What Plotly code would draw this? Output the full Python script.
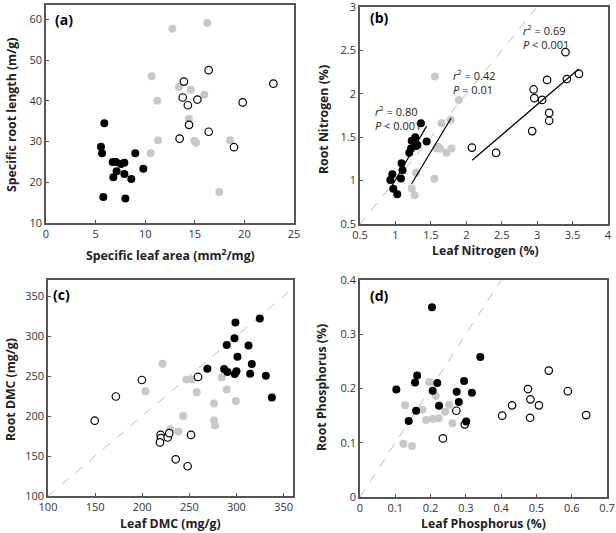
import numpy as np
import plotly.graph_objects as go

# ---------------- data ----------------
# (a) Specific leaf area vs specific root length
a_black_x = [5.88, 5.54, 5.65, 5.78, 6.72, 7.06, 6.79, 7.12, 7.56, 7.9, 7.9, 8.0, 8.6, 9.0, 9.81]
a_black_y = [34.5, 28.7, 27.1, 16.4, 25.0, 25.0, 21.2, 22.7, 24.5, 24.8, 22.0, 16.0, 20.8, 27.1, 23.3]
a_gray_x = [12.74, 16.26, 10.65, 11.22, 11.29, 10.55, 13.4, 14.6, 15.96, 14.4, 14.95, 15.12, 18.55, 17.47]
a_gray_y = [57.7, 59.1, 46.0, 40.0, 30.3, 27.1, 43.4, 42.7, 41.5, 35.6, 30.2, 29.7, 30.3, 17.6]
a_open_x = [13.9, 13.78, 14.3, 15.26, 16.4, 14.42, 13.47, 16.4, 19.83, 18.95, 22.92]
a_open_y = [44.7, 40.8, 38.9, 40.3, 47.5, 34.1, 30.7, 32.4, 39.6, 28.6, 44.2]

# (b) Leaf nitrogen vs root nitrogen
b_black_x = [0.928, 0.956, 0.97, 1.026, 1.087, 1.10, 1.078, 1.195, 1.22, 1.23, 1.28, 1.29, 1.31, 1.36, 1.44]
b_black_y = [1.006, 1.072, 0.906, 0.844, 1.20, 1.12, 1.025, 1.32, 1.37, 1.46, 1.50, 1.40, 1.41, 1.66, 1.45]
b_gray_x = [1.557, 1.895, 1.78, 1.65, 1.29, 1.23, 1.27, 1.55, 1.60, 1.63, 1.72, 1.79, 1.58]
b_gray_y = [2.20, 1.93, 1.70, 1.66, 1.09, 0.91, 0.83, 1.02, 1.39, 1.37, 1.32, 1.37, 1.37]
b_open_x = [2.08, 2.42, 2.93, 2.95, 2.96, 3.07, 3.14, 3.17, 3.17, 3.40, 3.42, 3.59]
b_open_y = [1.38, 1.32, 1.57, 2.05, 1.95, 1.93, 2.16, 1.78, 1.69, 2.48, 2.17, 2.23]
# fitted regression lines (x start, x end, y start, y end)
b_fit_black = [0.92, 1.44, 0.894, 1.628]
b_fit_gray = [1.228, 1.787, 0.964, 1.721]
b_fit_open = [2.083, 3.587, 1.234, 2.285]
b_stats = ["<i>r</i><sup>2</sup> = 0.80<br><i>P</i> < 0.001",
           "<i>r</i><sup>2</sup> = 0.42<br><i>P</i> = 0.01",
           "<i>r</i><sup>2</sup> = 0.69<br><i>P</i> < 0.001"]

# (c) Leaf DMC vs root DMC
c_black_x = [269.1, 289.7, 297.9, 298.9, 324.8, 312.8, 301.1, 286.9, 290.4, 298.2, 300.0, 314.5, 316.3, 331.2, 337.6]
c_black_y = [259.1, 288.8, 297.1, 317.0, 322.0, 288.0, 274.0, 258.7, 255.0, 252.5, 255.8, 252.9, 264.9, 250.4, 223.1]
c_gray_x = [221.6, 203.5, 246.8, 253.2, 257.8, 243.3, 238.3, 229.8, 284.4, 289.7, 276.2, 276.2, 277.3, 299.3]
c_gray_y = [265.3, 231.0, 245.5, 245.5, 229.8, 200.0, 180.6, 183.5, 248.3, 233.1, 215.7, 194.6, 188.0, 218.6]
c_open_x = [149.6, 172.0, 199.6, 259.2, 219.5, 219.9, 218.8, 227.0, 228.7, 251.8, 235.5, 248.2]
c_open_y = [194.2, 224.4, 245.0, 248.8, 176.4, 172.3, 167.0, 173.1, 178.5, 176.4, 145.9, 137.2]

# (d) Leaf phosphorus vs root phosphorus
d_black_x = [0.103, 0.162, 0.156, 0.138, 0.159, 0.204, 0.206, 0.219, 0.224, 0.274, 0.28, 0.295, 0.301, 0.317, 0.341]
d_black_y = [0.198, 0.224, 0.211, 0.140, 0.159, 0.350, 0.196, 0.210, 0.168, 0.194, 0.175, 0.214, 0.139, 0.192, 0.258]
d_gray_x = [0.128, 0.123, 0.147, 0.177, 0.196, 0.187, 0.206, 0.215, 0.223, 0.241, 0.253, 0.262]
d_gray_y = [0.169, 0.098, 0.094, 0.161, 0.212, 0.142, 0.144, 0.186, 0.145, 0.157, 0.170, 0.136]
d_open_x = [0.235, 0.273, 0.297, 0.403, 0.431, 0.476, 0.483, 0.482, 0.507, 0.535, 0.589, 0.641]
d_open_y = [0.108, 0.159, 0.134, 0.150, 0.169, 0.199, 0.180, 0.146, 0.169, 0.233, 0.195, 0.151]

# axis ranges
a_xr, a_yr = [0, 25], [10, 63.5]
b_xr, b_yr = [0.5, 4], [0.5, 3]
c_xr, c_yr = [100, 360], [100, 370]
d_xr, d_yr = [0, 0.7], [0, 0.4]

# ---------------- figure ----------------
W, H = 616, 533
FONT = "Open Sans"
GRAY = "#c8c8c8"
FRAME = "#555555"

fig = go.Figure()

def px(v):
    return v / W

def py(v):
    return 1 - v / H

panels = {
    "a": dict(xa="x", ya="y", xd=[px(46), px(294)], yd=[py(223), py(5)]),
    "b": dict(xa="x2", ya="y2", xd=[px(360), px(608)], yd=[py(224), py(7)]),
    "c": dict(xa="x3", ya="y3", xd=[px(48), px(293)], yd=[py(496), py(280)]),
    "d": dict(xa="x4", ya="y4", xd=[px(360), px(607)], yd=[py(497), py(280)]),
}

def add_groups(p, bx, by, gx, gy, ox, oy):
    P = panels[p]
    fig.add_trace(go.Scatter(x=gx, y=gy, mode="markers", xaxis=P["xa"], yaxis=P["ya"],
                             marker=dict(size=8, color=GRAY, line=dict(width=0)), showlegend=False))
    fig.add_trace(go.Scatter(x=ox, y=oy, mode="markers", xaxis=P["xa"], yaxis=P["ya"],
                             marker=dict(size=7.5, color="white", line=dict(width=1.2, color="black")),
                             showlegend=False))
    fig.add_trace(go.Scatter(x=bx, y=by, mode="markers", xaxis=P["xa"], yaxis=P["ya"],
                             marker=dict(size=8, color="black", line=dict(width=0)), showlegend=False))

def add_identity(p, yr):
    P = panels[p]
    fig.add_trace(go.Scatter(x=yr, y=yr, mode="lines", xaxis=P["xa"], yaxis=P["ya"],
                             line=dict(color="#bdbdbd", width=1, dash="dash"), showlegend=False,
                             hoverinfo="skip"))

add_identity("b", b_yr)
add_identity("c", c_yr)
add_identity("d", d_yr)

add_groups("a", a_black_x, a_black_y, a_gray_x, a_gray_y, a_open_x, a_open_y)
add_groups("b", b_black_x, b_black_y, b_gray_x, b_gray_y, b_open_x, b_open_y)
add_groups("c", c_black_x, c_black_y, c_gray_x, c_gray_y, c_open_x, c_open_y)
add_groups("d", d_black_x, d_black_y, d_gray_x, d_gray_y, d_open_x, d_open_y)

for fit in (b_fit_black, b_fit_gray, b_fit_open):
    fig.add_trace(go.Scatter(x=fit[:2], y=fit[2:], mode="lines", xaxis="x2", yaxis="y2",
                             line=dict(color="black", width=1.2), showlegend=False))

axis_common = dict(showgrid=False, zeroline=False, showline=True, linecolor=FRAME, linewidth=1.5,
                   mirror=True, ticks="inside", ticklen=3, tickcolor=FRAME, automargin=False,
                   ticklabeloverflow="allow",
                   tickfont=dict(family=FONT, size=11, color="#333333"))

layout = dict(
    width=W, height=H, margin=dict(l=0, r=0, t=0, b=0, pad=0, autoexpand=False), autosize=False,
    paper_bgcolor="white", plot_bgcolor="white", showlegend=False,
    xaxis=dict(domain=panels["a"]["xd"], range=a_xr, tickvals=[0, 5, 10, 15, 20, 25], anchor="y", **axis_common),
    yaxis=dict(domain=panels["a"]["yd"], range=a_yr, tickvals=[10, 20, 30, 40, 50, 60], anchor="x", **axis_common),
    xaxis2=dict(domain=panels["b"]["xd"], range=b_xr, tickvals=[0.5, 1, 1.5, 2, 2.5, 3, 3.5, 4],
                ticktext=["0.5", "1", "1.5", "2", "2.5", "3", "3.5", "4"], anchor="y2", **axis_common),
    yaxis2=dict(domain=panels["b"]["yd"], range=b_yr, tickvals=[0.5, 1, 1.5, 2, 2.5, 3],
                ticktext=["0.5", "1", "1.5", "2", "2.5", "3"], anchor="x2", **axis_common),
    xaxis3=dict(domain=panels["c"]["xd"], range=c_xr, tickvals=[100, 150, 200, 250, 300, 350], anchor="y3", **axis_common),
    yaxis3=dict(domain=panels["c"]["yd"], range=c_yr, tickvals=[100, 150, 200, 250, 300, 350], anchor="x3", **axis_common),
    xaxis4=dict(domain=panels["d"]["xd"], range=d_xr, tickvals=[0, 0.1, 0.2, 0.3, 0.4, 0.5, 0.6, 0.7],
                ticktext=["0", "0.1", "0.2", "0.3", "0.4", "0.5", "0.6", "0.7"], anchor="y4", **axis_common),
    yaxis4=dict(domain=panels["d"]["yd"], range=d_yr, tickvals=[0, 0.1, 0.2, 0.3, 0.4],
                ticktext=["0", "0.1", "0.2", "0.3", "0.4"], anchor="x4", **axis_common),
)
fig.update_layout(**layout)

ann = []
title_font = dict(family=FONT, size=12.3, color="#222222")

def title(text, x, y, angle=0):
    ann.append(dict(text="<b>" + text + "</b>", x=px(x), y=py(y), xref="paper", yref="paper",
                    showarrow=False, textangle=angle, font=title_font, xanchor="center", yanchor="middle"))

title("Specific leaf area (mm<sup>2</sup>/mg)", 170, 255)
title("Specific root length (m/g)", 12, 115, -90)
title("Leaf Nitrogen (%)", 485, 250)
title("Root Nitrogen (%)", 323, 120, -90)
title("Leaf DMC (mg/g)", 170, 523)
title("Root DMC (mg/g)", 10, 390, -90)
title("Leaf Phosphorus (%)", 483, 523)
title("Root Phosphorus (%)", 321, 388, -90)

for lab, (x, y) in {"(a)": (53, 20), "(b)": (368, 18), "(c)": (51, 294), "(d)": (368, 295)}.items():
    ann.append(dict(text="<b>" + lab + "</b>", x=px(x), y=py(y), xref="paper", yref="paper",
                    showarrow=False, font=dict(family=FONT, size=14, color="black"),
                    xanchor="left", yanchor="middle"))

stat_pos = [(373, 118), (451, 82), (521, 37)]
for txt, (x, y) in zip(b_stats, stat_pos):
    ann.append(dict(text=txt, x=px(x), y=py(y), xref="paper", yref="paper", showarrow=False,
                    align="left", xanchor="left", yanchor="middle",
                    font=dict(family=FONT, size=11, color="#222222")))

fig.update_layout(annotations=ann)
fig.write_html(
    "out.html",
    config={"responsive": False, "displayModeBar": False},
    default_width="616px",
    default_height="533px",
    post_script="document.body.style.margin='0';document.body.style.overflow='hidden';",
)
